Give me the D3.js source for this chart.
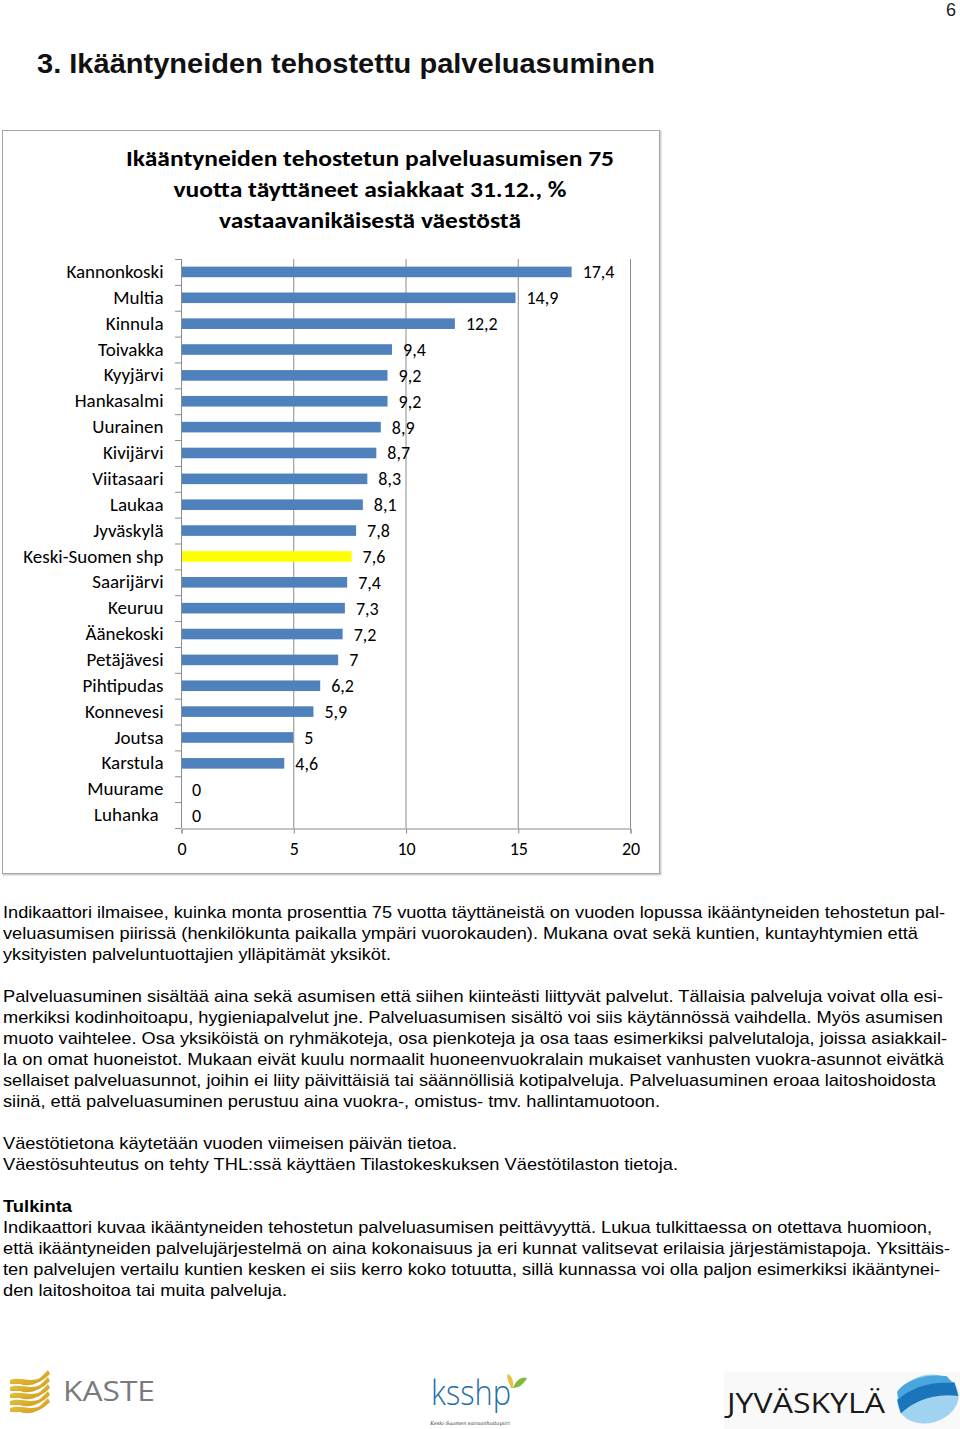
<!DOCTYPE html>
<html>
<head>
<meta charset="utf-8">
<script src="https://cdn.jsdelivr.net/npm/d3@7"></script>
<style>
  body { margin: 0; background: #fff; }
  svg { display: block; }
</style>
</head>
<body>
<div id="page"></div>
<script>
// chart data
const categories = ["Kannonkoski", "Multia", "Kinnula", "Toivakka", "Kyyjärvi", "Hankasalmi",
    "Uurainen", "Kivijärvi", "Viitasaari", "Laukaa", "Jyväskylä", "Keski-Suomen shp",
    "Saarijärvi", "Keuruu", "Äänekoski", "Petäjävesi", "Pihtipudas", "Konnevesi",
    "Joutsa", "Karstula", "Muurame", "Luhanka"];
const values = [17.4, 14.9, 12.2, 9.4, 9.2, 9.2, 8.9, 8.7, 8.3, 8.1, 7.8, 7.6,
    7.4, 7.3, 7.2, 7, 6.2, 5.9, 5, 4.6, 0, 0];
const highlight = "Keski-Suomen shp";
const xTicks = [0, 5, 10, 15, 20];
const chartTitle = ["Ikääntyneiden tehostetun palveluasumisen 75",
    "vuotta täyttäneet asiakkaat 31.12., %",
    "vastaavanikäisestä väestöstä"];

// page text, each line with the width it fills
const notes = [
    { y: 918, w: 942, t: "Indikaattori ilmaisee, kuinka monta prosenttia 75 vuotta täyttäneistä on vuoden lopussa ikääntyneiden tehostetun pal-" },
    { y: 939, w: 915, t: "veluasumisen piirissä (henkilökunta paikalla ympäri vuorokauden). Mukana ovat sekä kuntien, kuntayhtymien että" },
    { y: 960, w: 388, t: "yksityisten palveluntuottajien ylläpitämät yksiköt." },
    { y: 1002, w: 940, t: "Palveluasuminen sisältää aina sekä asumisen että siihen kiinteästi liittyvät palvelut. Tällaisia palveluja voivat olla esi-" },
    { y: 1023, w: 940, t: "merkiksi kodinhoitoapu, hygieniapalvelut jne. Palveluasumisen sisältö voi siis käytännössä vaihdella. Myös asumisen" },
    { y: 1044, w: 944, t: "muoto vaihtelee. Osa yksiköistä on ryhmäkoteja, osa pienkoteja ja osa taas esimerkiksi palvelutaloja, joissa asiakkail-" },
    { y: 1065, w: 941, t: "la on omat huoneistot. Mukaan eivät kuulu normaalit huoneenvuokralain mukaiset vanhusten vuokra-asunnot eivätkä" },
    { y: 1086, w: 933, t: "sellaiset palveluasunnot, joihin ei liity päivittäisiä tai säännöllisiä kotipalveluja. Palveluasuminen eroaa laitoshoidosta" },
    { y: 1107, w: 657, t: "siinä, että palveluasuminen perustuu aina vuokra-, omistus- tmv. hallintamuotoon." },
    { y: 1149, w: 454, t: "Väestötietona käytetään vuoden viimeisen päivän tietoa." },
    { y: 1170, w: 675, t: "Väestösuhteutus on tehty THL:ssä käyttäen Tilastokeskuksen Väestötilaston tietoja." },
    { y: 1212, w: 69, t: "Tulkinta", bold: true },
    { y: 1233, w: 929, t: "Indikaattori kuvaa ikääntyneiden tehostetun palveluasumisen peittävyyttä. Lukua tulkittaessa on otettava huomioon," },
    { y: 1254, w: 947, t: "että ikääntyneiden palvelujärjestelmä on aina kokonaisuus ja eri kunnat valitsevat erilaisia järjestämistapoja. Yksittäis-" },
    { y: 1275, w: 937, t: "ten palvelujen vertailu kuntien kesken ei siis kerro koko totuutta, sillä kunnassa voi olla paljon esimerkiksi ikääntynei-" },
    { y: 1296, w: 284, t: "den laitoshoitoa tai muita palveluja." }
];

const width = 960;
const height = 1429;
const chartFont = "Carlito, Lato, 'Open Sans', sans-serif";
const pageFont = "'Liberation Sans', Arial, sans-serif";

const svg = d3.select("#page").append("svg")
    .attr("width", width)
    .attr("height", height);

// page number and heading
svg.append("text")
    .attr("x", 956).attr("y", 16)
    .attr("text-anchor", "end")
    .style("font-family", pageFont)
    .style("font-size", "18px")
    .attr("fill", "#222")
    .text("6");

svg.append("text")
    .attr("x", 37).attr("y", 73)
    .attr("textLength", 618)
    .attr("lengthAdjust", "spacingAndGlyphs")
    .style("font-family", pageFont)
    .style("font-weight", 700)
    .style("font-size", "28px")
    .attr("fill", "#111")
    .text("3. Ikääntyneiden tehostettu palveluasuminen");

// chart frame
svg.append("rect")
    .attr("x", 3.5).attr("y", 131.5)
    .attr("width", 657).attr("height", 743)
    .attr("fill", "none")
    .attr("stroke", "#d0d0d0")
    .attr("stroke-width", 2);
svg.append("rect")
    .attr("x", 2.5).attr("y", 130.5)
    .attr("width", 657).attr("height", 743)
    .attr("fill", "#fff")
    .attr("stroke", "#a6a6a6")
    .attr("stroke-width", 1);

// chart title
const titleWidths = [488, 393, 302];
svg.append("g")
    .selectAll("text")
    .data(chartTitle)
    .enter()
    .append("text")
    .attr("x", 370)
    .attr("y", (d, i) => 166 + i * 31)
    .attr("text-anchor", "middle")
    .attr("textLength", (d, i) => titleWidths[i])
    .attr("lengthAdjust", "spacingAndGlyphs")
    .style("font-family", chartFont)
    .style("font-weight", 700)
    .style("font-size", "22px")
    .attr("fill", "#000")
    .text(d => d);

// scales
const x = d3.scaleLinear()
    .domain([0, 20])
    .range([181, 630]);

const y = d3.scaleBand()
    .domain(categories)
    .range([259, 828])
    .paddingInner(0.59)
    .paddingOuter(0.295);

const plot = svg.append("g");

// vertical gridlines
plot.append("g")
    .selectAll("line")
    .data(xTicks.filter(d => d > 0))
    .enter()
    .append("line")
    .attr("x1", d => x(d) + 0.5).attr("x2", d => x(d) + 0.5)
    .attr("y1", 259).attr("y2", 828)
    .attr("stroke", "#8c8c8c")
    .attr("stroke-width", 1);

// bars
plot.append("g")
    .selectAll("rect")
    .data(categories)
    .enter()
    .append("rect")
    .attr("x", x(0))
    .attr("y", d => y(d))
    .attr("width", (d, i) => x(values[i]) - x(0))
    .attr("height", y.bandwidth())
    .attr("fill", d => d === highlight ? "#ffff00" : "#4f81bd");

// value labels
plot.append("g")
    .selectAll("text")
    .data(categories)
    .enter()
    .append("text")
    .attr("x", (d, i) => x(values[i]) + 11)
    .attr("y", d => y(d) + y.bandwidth() / 2)
    .attr("dy", "0.36em")
    .style("font-family", chartFont)
    .style("font-size", "18px")
    .attr("fill", "#000")
    .text((d, i) => String(values[i]).replace(".", ","));

// left axis with ticks between categories
plot.append("g")
    .attr("transform", `translate(${x(0) + 0.5}, 0)`)
    .style("font-family", chartFont)
    .style("font-size", "19px")
    .call(d3.axisLeft(y).tickSize(0).tickPadding(18))
    .call(g => g.select(".domain").attr("stroke", "#8c8c8c").attr("d", "M0,259V828"))
    .call(g => g.selectAll(".tick text").attr("fill", "#000")
        .attr("dx", d => d === "Luhanka" ? "-5" : "0"));

plot.append("g")
    .selectAll("line")
    .data(d3.range(categories.length + 1))
    .enter()
    .append("line")
    .attr("x1", x(0) - 6).attr("x2", x(0))
    .attr("y1", i => 259 + i * y.step() + 0.5)
    .attr("y2", i => 259 + i * y.step() + 0.5)
    .attr("stroke", "#8c8c8c");

// bottom axis
plot.append("g")
    .attr("transform", "translate(0.5, 828.5)")
    .style("font-family", chartFont)
    .style("font-size", "18px")
    .call(d3.axisBottom(x)
        .tickValues(xTicks)
        .tickSize(5)
        .tickPadding(9)
    )
    .call(g => g.select(".domain").attr("stroke", "#8c8c8c"))
    .call(g => g.selectAll(".tick line").attr("stroke", "#8c8c8c"))
    .call(g => g.selectAll(".tick text").attr("fill", "#000"));

// notes text
svg.append("g")
    .selectAll("text")
    .data(notes)
    .enter()
    .append("text")
    .attr("x", 3)
    .attr("y", d => d.y)
    .attr("textLength", d => d.w)
    .attr("lengthAdjust", "spacingAndGlyphs")
    .style("font-family", pageFont)
    .style("font-size", "17px")
    .style("font-weight", d => d.bold ? 700 : 400)
    .attr("fill", "#000")
    .text(d => d.t);

// logos
const logos = svg.append("g");

// KASTE
const kaste = logos.append("g");
const waveGrad = svg.append("defs").append("linearGradient")
    .attr("id", "gold").attr("x1", 0).attr("x2", 1).attr("y1", 0).attr("y2", 1);
waveGrad.append("stop").attr("offset", 0).attr("stop-color", "#f3cf4a");
waveGrad.append("stop").attr("offset", 1).attr("stop-color", "#c8961a");
d3.range(5).forEach(i => {
    const y0 = 1380 + i * 7;
    kaste.append("path")
        .attr("d", `M10,${y0} C20,${y0 - 4} 30,${y0 + 3} 40,${y0 - 2} L48,${y0 - 10} L50,${y0 - 6} C42,${y0 + 2} 30,${y0 + 8} 20,${y0 + 4} L10,${y0 + 4} Z`)
        .attr("fill", "url(#gold)");
});
kaste.append("text")
    .attr("x", 63).attr("y", 1401)
    .attr("textLength", 92)
    .attr("lengthAdjust", "spacingAndGlyphs")
    .style("font-family", "'Open Sans', sans-serif")
    .style("font-size", "27px")
    .attr("fill", "#7a7a7e")
    .text("KASTE");

// ksshp
const ks = logos.append("g");
ks.append("text")
    .attr("x", 431).attr("y", 1405)
    .attr("textLength", 80)
    .attr("lengthAdjust", "spacingAndGlyphs")
    .style("font-family", "'Open Sans', sans-serif")
    .style("font-weight", 300)
    .style("font-size", "34px")
    .attr("fill", "#1f70a8")
    .text("ksshp");
ks.append("path")
    .attr("d", "M511,1388 C508,1380 506,1376 508,1374 C512,1376 514,1382 513,1388 Z")
    .attr("fill", "#e8c23a");
ks.append("path")
    .attr("d", "M513,1388 C516,1380 522,1376 527,1378 C524,1384 519,1388 513,1388 Z")
    .attr("fill", "#7dbb3c");
ks.append("text")
    .attr("x", 470).attr("y", 1425)
    .attr("text-anchor", "middle")
    .style("font-family", "'DejaVu Serif', serif")
    .style("font-style", "italic")
    .style("font-size", "5px")
    .attr("fill", "#333")
    .text("Keski-Suomen sairaanhoitopiiri");

// Jyväskylä
const jy = logos.append("g");
jy.append("rect")
    .attr("x", 724).attr("y", 1372)
    .attr("width", 236).attr("height", 57)
    .attr("fill", "#f9f9f9");
jy.append("text")
    .attr("x", 727).attr("y", 1413)
    .attr("textLength", 158)
    .attr("lengthAdjust", "spacingAndGlyphs")
    .style("font-family", "'Open Sans', sans-serif")
    .style("font-size", "28px")
    .attr("fill", "#1a1a1a")
    .text("JYVÄSKYLÄ");
const blob = jy.append("g").attr("transform", "rotate(-15, 928, 1399)");
blob.append("ellipse").attr("cx", 928).attr("cy", 1399).attr("rx", 31).attr("ry", 24).attr("fill", "#9fd3ef");
blob.append("path")
    .attr("d", "M898,1392 C910,1380 935,1380 958,1390 L958,1404 C935,1394 912,1398 898,1406 Z")
    .attr("fill", "#1b75bb");
blob.append("path")
    .attr("d", "M900,1384 C912,1374 935,1374 952,1382 L956,1390 C935,1382 912,1384 899,1392 Z")
    .attr("fill", "#4aa6dc");
</script>
</body>
</html>
